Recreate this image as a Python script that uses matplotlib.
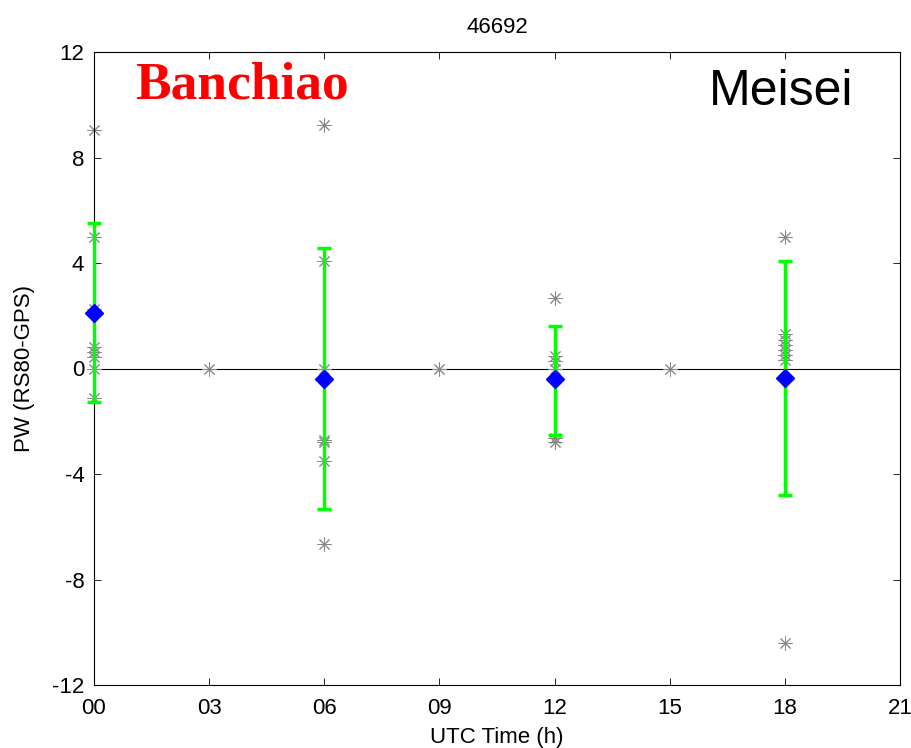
import numpy as np
import matplotlib.pyplot as plt

# 数据: 各时次的差值 PW (RS80 - GPS)
hours = [0, 3, 6, 9, 12, 15, 18]
hour_labels = ['00', '03', '06', '09', '12', '15', '18', '21']

diff_00 = [9.06, 4.99, 2.25, 0.83, 0.64, 0.45, 0.0, -1.11]
diff_03 = [0.0]
diff_06 = [9.22, 4.07, 0.0, -2.71, -2.78, -3.50, -6.66]
diff_09 = [0.0]
diff_12 = [2.66, 0.47, 0.30, 0.0, -2.64, -2.77]
diff_15 = [0.0]
diff_18 = [4.99, 1.29, 1.08, 0.89, 0.70, 0.51, 0.32, -10.40]

mean_hours = [0, 6, 12, 18]
mean_vals = [2.11, -0.41, -0.41, -0.35]
err_low = [-1.26, -5.33, -2.51, -4.79]
err_high = [5.50, 4.58, 1.62, 4.07]

all_diffs = [diff_00, diff_03, diff_06, diff_09, diff_12, diff_15, diff_18]

plt.rcParams['font.family'] = ['Liberation Sans', 'DejaVu Sans']
plt.rcParams['axes.unicode_minus'] = False
fig = plt.figure(figsize=(9.12, 7.48), dpi=100)
ax = fig.add_axes([94 / 912, 1 - 685 / 748, 806 / 912, 633 / 748])

# 零线
ax.axhline(0, color='black', linewidth=0.8, zorder=1)

# 散点 (灰色星号)
for h, vals in zip(hours, all_diffs):
    ax.plot([h] * len(vals), vals, linestyle='none', marker=(8, 2, 0),
            markersize=10, markeredgewidth=0.7, color='#888888', zorder=2,
            clip_on=False)

# 误差棒
mean_vals = np.array(mean_vals)
yerr = [mean_vals - np.array(err_low), np.array(err_high) - mean_vals]
eb = ax.errorbar(mean_hours, mean_vals, yerr=yerr, fmt='none', ecolor='#00ff00',
                 elinewidth=2.5, capsize=5, capthick=2.5, zorder=3)
for art in eb.lines[1] + eb.lines[2]:
    art.set_clip_on(False)
ax.plot(mean_hours, mean_vals, linestyle='none', marker='D', markersize=9,
        color='blue', markeredgecolor='blue', zorder=4, clip_on=False)

ax.set_xlim(0, 21)
ax.set_ylim(-12, 12)
ax.set_xticks(range(0, 22, 3))
ax.set_xticklabels(hour_labels)
ax.set_yticks(range(-12, 13, 4))
ax.tick_params(direction='in', top=True, right=True, labelsize=16, length=5, width=0.6)
ax.tick_params(axis='x', pad=9)
ax.tick_params(axis='y', pad=7)
for s in ax.spines.values():
    s.set_linewidth(0.8)

ax.set_title('46692', fontsize=16, pad=14)
ax.set_xlabel('UTC Time (h)', fontsize=16, labelpad=6)
ax.set_ylabel('PW (RS80-GPS)', fontsize=16, labelpad=12)

ax.text(1.07, 10.25, 'Banchiao', color='red', fontsize=38.5, fontweight='bold',
        family=['Liberation Serif', 'DejaVu Serif'])
ax.text(19.78, 10.0, 'Meisei', color='black', fontsize=36, ha='right')

plt.savefig('out.png', dpi=100)
